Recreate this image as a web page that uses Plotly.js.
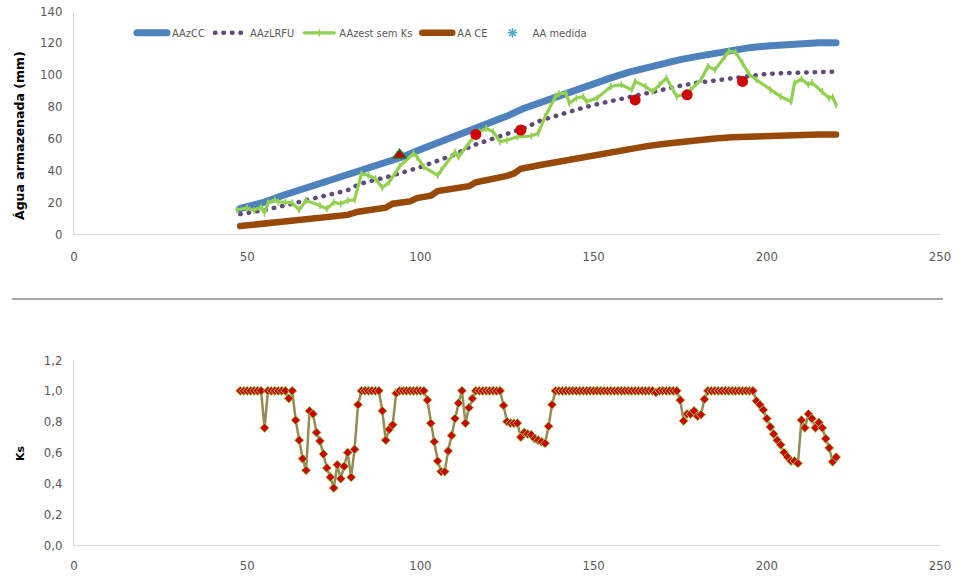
<!DOCTYPE html>
<html><head><meta charset="utf-8">
<script src="https://cdn.plot.ly/plotly-3.0.1.min.js"></script>
<style>
html,body{margin:0;padding:0;background:#fff}
#chart{width:961px;height:576px}
#chart path.js-line{stroke-linecap:round !important;}
</style>
</head><body><div id="chart"></div>
<script>
// ---- Top chart data (day of year, mm) ----
var ccDays = [48,55,60,65,70,75,78,80,85,90,95,100,105,110,115,120,125,130,135,140,145,150,155,160,165,170,175,180,185,190,195,200,205,210,215,220];
var ccVals = [16,20,24,27.5,31,34,36,38.5,41.5,45,48.5,53,57,61,66,70,74,79,83,87,91,95,98,101.5,104.5,107,109.5,111.5,113.5,115.5,117,118,119,119.5,120,120];

var lrfuDays = [48,55,60,65,70,75,79,82,85,90,95,100,105,110,115,120,125,130,135,140,145,150,155,160,165,170,175,180,185,190,195,200,205,210,215,220];
var lrfuVals = [12.5,15,17.5,20,23,25.5,27.5,31,33,35.5,38.5,42,46,50,55.5,59,63,66.5,71.5,75,78,81,83.5,86,88.5,91,93,95,96.5,98,99.5,100.5,101,101.5,102,102];

var estDays = [47,50,52,54,55,56,58,59,61,63,65,67,71,73,75,77,79,81,83,85,87,89,91,94,98,99,101,105,106,110,111,115,117,119,121,123,125,128,132,134,136,139,140,142,143,145,147,148,151,155,158,161,162,165,167,169,171,174,177,178,181,183,185,188,189,191,193,195,197,201,204,207,208,210,212,213,216,218,219,220];
var estVals = [15.2,16.4,14.7,17,13,19.6,21.5,20,20,19.4,15.2,21,17.9,15.8,20,19,21,21.5,37.9,36.8,34.7,29,32.6,42.5,50.5,48.4,42,36.8,40,51.5,48.4,60,64,66.3,64.2,57.9,58.9,61,61.5,63.2,73.7,86.3,88,88.4,82.1,85.3,86.3,83.1,85.3,92.6,93.7,90.5,95.8,92.6,89.4,93.7,97.9,86.3,88.4,90.5,96.8,105.2,103.1,111.6,114.7,114.1,107.4,100,96.8,90.5,86.3,83.1,94.8,97.3,93.7,95.1,89.4,85.3,86,81];

var ceDays = [48,55,60,65,70,75,79,82,87,90,92,97,99,103,105,110,114,116,120,125,127,129,135,140,145,150,155,160,165,170,175,180,185,190,195,200,205,210,215,220];
var ceVals = [5,6.5,7.5,8.5,9.5,10.5,12,14,15.5,16.5,19,20.5,22.5,24,27,28.5,30,32.5,34,36.5,38,41,43.5,45.5,48,50,52,53.5,55,56.5,58,59,60,60.7,61.2,61.7,62.2,62.5,62.5,62.5];

var medDays = [94,116,129,162,177,193];
var medVals = [49.5,62.5,65.3,84.2,87.4,95.8];

// ---- Bottom chart data (Ks) ----
var ksDays = [];
for (var d = 48; d <= 220; d++) ksDays.push(d);
var ksVals = [
 1,1,1,1,1,1,1,            // 48-54
 0.76,                     // 55
 1,1,1,1,1,1,              // 56-61
 0.95,1,                   // 62-63
 0.81,0.68,0.56,0.485,0.87,0.85,0.73,0.675,0.59,0.50,0.44,0.37,0.52,0.43,0.51,0.60,0.44,0.62,0.91, // 64-82
 1,1,1,1,1,1,              // 83-88
 0.87,0.68,0.75,0.78,0.985,// 89-93
 1,1,1,1,1,1,1,1,          // 94-101
 0.94,0.79,0.67,0.545,0.476,0.476,0.61,0.71,0.82,0.92, // 102-111
 1,0.79,0.89,0.95,         // 112-115
 1,1,1,1,1,1,1,1,          // 116-123
 0.905,0.80,0.79,0.79,0.79,0.70,0.73,0.72,0.715,0.69,0.68,0.67,0.66,0.77,0.91, // 124-138
 1,1,1,1,1,1,1,1,1,1,1,1,1,1,1,1,1,1,1,1,1,1,1,1,1,1,1,1,1,0.99,1,1,1,1,1,1, // 139-174
 0.94,0.805,0.85,0.85,0.87,0.835,0.845,0.945, // 175-182
 1,1,1,1,1,1,1,1,1,1,1,1,1,1, // 183-196
 0.935,0.91,0.877,0.82,0.766,0.72,0.68,0.65,0.60,0.57,0.545,0.545,0.53, // 197-209
 0.81,0.76,0.85,0.82,0.76,0.795,0.76,0.69,0.63,0.54,0.57 // 210-220
];

var yTitleTop = "Água armazenada (mm)";
var yTitleBottom = "Ks";

var narrow = '"Liberation Sans Narrow", "DejaVu Sans Condensed", sans-serif';
var tickFont = {family: narrow, size: 13, color: '#595959'};
var X0 = 74/961, X1 = 940/961;

var traces = [
  {x: ccDays, y: ccVals, name: 'AAzCC', mode: 'lines', line: {color: '#4F81BD', width: 7}, xaxis: 'x', yaxis: 'y'},
  {x: lrfuDays, y: lrfuVals, name: 'AAzLRFU', mode: 'lines', line: {color: '#604A7B', width: 4.5, dash: '0.5px,8px'}, xaxis: 'x', yaxis: 'y'},
  {x: estDays, y: estVals, name: 'AAzest sem Ks', mode: 'lines+markers', line: {color: '#92D050', width: 3.2}, marker: {symbol: 'line-ns', size: 5, color: '#92D050', line: {color: '#92D050', width: 1.5}}, xaxis: 'x', yaxis: 'y'},
  {x: ceDays, y: ceVals, name: 'AA CE', mode: 'lines', line: {color: '#984807', width: 6.5}, xaxis: 'x', yaxis: 'y'},
  {x: medDays, y: medVals, name: 'AA medida', mode: 'markers', marker: {symbol: 'asterisk-open', size: 8, color: '#4BACC6', line: {color: '#4BACC6', width: 1.5}}, xaxis: 'x', yaxis: 'y'},
  {x: medDays.slice(1), y: medVals.slice(1), mode: 'markers', showlegend: false, hoverinfo: 'skip', marker: {symbol: 'circle', size: 11, color: '#D00000', line: {width: 0}}, xaxis: 'x', yaxis: 'y'},
  {x: medDays.slice(0,1), y: medVals.slice(0,1), mode: 'markers', showlegend: false, hoverinfo: 'skip', marker: {symbol: 'triangle-up', size: 12, color: '#C00000', line: {color: '#2E7D32', width: 1.5}}, xaxis: 'x', yaxis: 'y'},
  {x: ksDays, y: ksVals, name: 'Ks', mode: 'lines+markers', showlegend: false, line: {color: '#948A54', width: 2.5}, marker: {symbol: 'diamond', size: 7, color: '#CC0000', line: {color: '#92D050', width: 1}}, xaxis: 'x2', yaxis: 'y2'}
];

var axisCommon = {showgrid: false, zeroline: false, showline: true, linecolor: '#D9D9D9', linewidth: 1, ticks: '', tickfont: tickFont};

var layout = {
  width: 961, height: 576,
  margin: {l: 0, r: 0, t: 0, b: 0},
  paper_bgcolor: '#ffffff', plot_bgcolor: '#ffffff',
  separators: ',.',
  showlegend: true,
  legend: {orientation: 'h', x: 132/961, y: 0.943, xanchor: 'left', yanchor: 'middle', font: {family: narrow, size: 11, color: '#595959'}, bgcolor: 'rgba(0,0,0,0)', itemwidth: 30},
  xaxis: Object.assign({}, axisCommon, {domain: [X0, X1], range: [0, 250], tickvals: [0,50,100,150,200,250], anchor: 'y', ticklabelstandoff: 10}),
  yaxis: Object.assign({}, axisCommon, {domain: [(576-234)/576, (576-11)/576], range: [0, 140], tickvals: [0,20,40,60,80,100,120,140], anchor: 'x', ticklabelstandoff: 8}),
  xaxis2: Object.assign({}, axisCommon, {domain: [X0, X1], range: [0, 250], tickvals: [0,50,100,150,200,250], anchor: 'y2', ticklabelstandoff: 8}),
  yaxis2: Object.assign({}, axisCommon, {domain: [(576-545)/576, (576-360)/576], range: [0, 1.2], tickvals: [0,0.2,0.4,0.6,0.8,1.0,1.2], tickformat: '.1f', anchor: 'x2', ticklabelstandoff: 8}),
  shapes: [
    {type: 'line', xref: 'paper', yref: 'paper', x0: 12/961, x1: 943/961, y0: (576-299)/576, y1: (576-299)/576, line: {color: '#A6A6A6', width: 2}}
  ],
  annotations: [
    {text: yTitleTop, xref: 'paper', yref: 'paper', x: 19/961, y: (576-136)/576, textangle: -90, showarrow: false, xanchor: 'center', yanchor: 'middle', font: {family: '"DejaVu Sans", sans-serif', size: 12.5, color: '#000000', weight: 'bold'}},
    {text: yTitleBottom, xref: 'paper', yref: 'paper', x: 20/961, y: (576-453)/576, textangle: -90, showarrow: false, xanchor: 'center', yanchor: 'middle', font: {family: '"DejaVu Sans", sans-serif', size: 11, color: '#000000', weight: 'bold'}}
  ]
};

Plotly.newPlot('chart', traces, layout, {displayModeBar: false, staticPlot: true});
</script>
</body></html>
